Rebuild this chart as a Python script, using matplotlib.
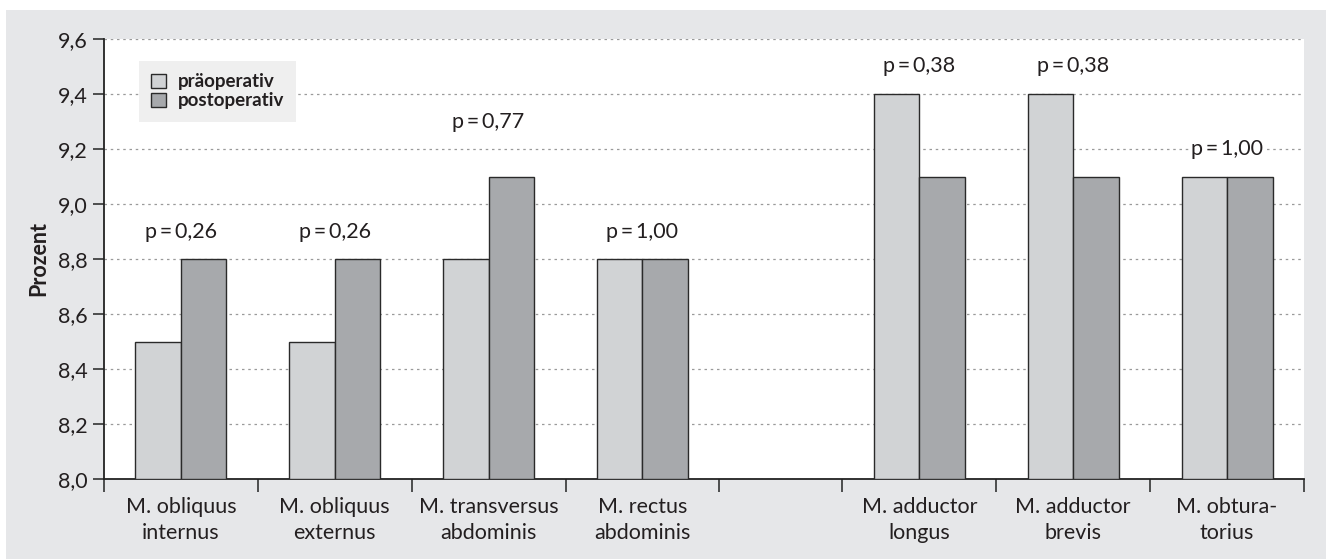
import matplotlib
matplotlib.use("Agg")
import matplotlib.pyplot as plt
from matplotlib.patches import Rectangle, Patch
from matplotlib.ticker import FixedLocator, NullFormatter

plt.rcParams['font.family'] = ['Lato', 'DejaVu Sans']

categories = ["M. obliquus\ninternus", "M. obliquus\nexternus", "M. transversus\nabdominis",
              "M. rectus\nabdominis", "M. adductor\nlongus", "M. adductor\nbrevis",
              "M. obtura-\ntorius"]
pre = [8.5, 8.5, 8.8, 8.8, 9.4, 9.4, 9.1]
post = [8.8, 8.8, 9.1, 8.8, 9.1, 9.1, 9.1]
p_labels = ["p\u2009=\u20090,26", "p\u2009=\u20090,26", "p\u2009=\u20090,77", "p\u2009=\u20091,00",
            "p\u2009=\u20090,38", "p\u2009=\u20090,38", "p\u2009=\u20091,00"]
series_names = ["präoperativ", "postoperativ"]
yticks = [8.0, 8.2, 8.4, 8.6, 8.8, 9.0, 9.2, 9.4, 9.6]
ytick_labels = ["8,0", "8,2", "8,4", "8,6", "8,8", "9,0", "9,2", "9,4", "9,6"]

# layout (not data)
centers = [0.5, 1.5, 2.5, 3.5, 5.3, 6.3, 7.3]
boundaries = [0, 1, 2, 3, 4, 4.8, 5.8, 6.8, 7.8]
label_gap = [0.1, 0.1, 0.2, 0.1, 0.1, 0.1, 0.1]
bw = 0.296
c_pre = "#d1d3d5"
c_post = "#a7a9ac"
edge = "#2a2a2a"
tc = "#231f20"
fs = 15.5

fig = plt.figure(figsize=(13.26, 5.6), dpi=100)
fig.patches.append(Rectangle((6/1326, 1 - 559/560), 1 - 6/1326, (559 - 10)/560,
                             transform=fig.transFigure, facecolor="#e6e7e9",
                             edgecolor="none", zorder=-10))
ax = fig.add_axes([104/1326, 1 - 479/560, 1200/1326, 440/560])
ax.set_facecolor("white")

xs_pre = [c - bw/2 for c in centers]
xs_post = [c + bw/2 for c in centers]
ax.bar(xs_pre, [v - 8.0 for v in pre], bottom=8.0, width=bw, color=c_pre,
       edgecolor=edge, linewidth=1.0, zorder=3)
ax.bar(xs_post, [v - 8.0 for v in post], bottom=8.0, width=bw, color=c_post,
       edgecolor=edge, linewidth=1.0, zorder=3)

for c, a, b, t, g in zip(centers, pre, post, p_labels, label_gap):
    ax.text(c, max(a, b) + g, t, ha="center", va="center", fontsize=fs,
            color=tc, zorder=5,
            bbox=dict(facecolor="white", edgecolor="none", pad=1))

ax.set_xlim(0, 7.8)
ax.set_ylim(8.0, 9.6)
ax.set_yticks(yticks)
ax.set_yticklabels(ytick_labels, fontsize=fs, color=tc)
ax.yaxis.grid(True, linestyle=(0, (2, 3)), color="#9a9a9a", linewidth=0.9, zorder=0)
ax.set_axisbelow(True)

ax.xaxis.set_major_locator(FixedLocator(boundaries))
ax.xaxis.set_major_formatter(NullFormatter())
ax.xaxis.set_minor_locator(FixedLocator(centers))
ax.set_xticklabels(categories, minor=True, fontsize=fs, color=tc, linespacing=1.35)
ax.tick_params(axis="x", which="major", length=9, width=1.2, color="#333333", direction="out")
ax.tick_params(axis="x", which="minor", length=0, pad=13)
ax.tick_params(axis="y", length=8, width=1.2, color="#333333", pad=4)

for s in ["top", "right"]:
    ax.spines[s].set_visible(False)
for s in ["left", "bottom"]:
    ax.spines[s].set_color("#222222")
    ax.spines[s].set_linewidth(1.3)

ax.set_ylabel("Prozent", fontsize=fs, fontweight="bold", color=tc, labelpad=6)

handles = [Patch(facecolor=c_pre, edgecolor=edge, linewidth=1.0),
           Patch(facecolor=c_post, edgecolor=edge, linewidth=1.0)]
leg = ax.legend(handles, series_names, loc="upper left",
                bbox_to_anchor=(139/1326, 1 - 61/560), bbox_transform=fig.transFigure,
                borderaxespad=0, fancybox=False, frameon=True,
                prop=dict(family=["Lato", "DejaVu Sans"], weight="bold", size=13.5),
                handlelength=0.8, handleheight=0.8, handletextpad=0.6,
                labelspacing=0.12, borderpad=0.65)
leg.get_frame().set_facecolor("#efefef")
leg.get_frame().set_edgecolor("none")
leg.get_frame().set_alpha(1)
leg.set_zorder(10)
for t in leg.get_texts():
    t.set_color(tc)

fig.savefig("out.png", dpi=100)
